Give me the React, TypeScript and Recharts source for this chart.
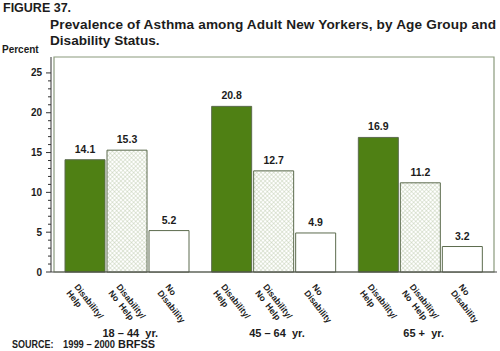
import React from 'react';
import { BarChart, Bar, XAxis, YAxis, LabelList, ReferenceArea } from 'recharts';

const ageGroups = ['18 – 44  yr.', '45 – 64  yr.', '65 +  yr.'];
const helpValues = [14.1, 20.8, 16.9];
const noHelpValues = [15.3, 12.7, 11.2];
const noDisabilityValues = [5.2, 4.9, 3.2];
const yTicks = [0, 1, 2, 3, 4, 5, 6, 7, 8, 9, 10, 11, 12, 13, 14, 15, 16, 17, 18, 19, 20, 21, 22, 23, 24, 25];
const helpLabel = ['Disability/', 'Help'];
const noHelpLabel = ['Disability/', 'No  Help'];
const noDisabilityLabel = ['No', 'Disability'];

const data = ageGroups.map((group, i) => ({
  group,
  help: helpValues[i],
  noHelp: noHelpValues[i],
  noDis: noDisabilityValues[i],
}));

const FONT = '"Liberation Sans", Arial, Helvetica, sans-serif';
const INK = '#1c1c1c';
const GREEN = '#4f8014';
const EDGE = '#5c6b4e';
const FRAME = '#8a9a7c';

function footLabel(lines: string[], dx: number) {
  return (props: any) => {
    const vb = props.viewBox ?? props;
    const x = Number(vb.x ?? props.x);
    const y = Number(vb.y ?? props.y);
    const w = Number(vb.width ?? props.width);
    const h = Number(vb.height ?? props.height);
    const cx = x + w / 2 + dx;
    const by = y + h + 15;
    return (
      <text
        transform={`translate(${cx},${by}) rotate(52)`}
        fontFamily={FONT}
        fontSize={8.7}
        fontWeight="bold"
        fill={INK}
        style={{ whiteSpace: 'pre' }}
      >
        {lines.map((l, i) => (
          <tspan key={i} x={0} dy={i === 0 ? 0 : 10}>
            {l}
          </tspan>
        ))}
      </text>
    );
  };
}

const YTick = (props: any) => {
  const { x, y, payload } = props;
  const major = payload.value % 5 === 0;
  return (
    <g>
      <line x1={x - (major ? 5 : 3)} x2={x} y1={y} y2={y} stroke="#333" strokeWidth={1} />
      {major && (
        <text x={x - 9} y={y} dy={3.5} textAnchor="end" fontFamily={FONT} fontSize={10} fontWeight="bold" fill={INK}>
          {payload.value}
        </text>
      )}
    </g>
  );
};

const GroupTick = (props: any) => {
  const { x, y, payload } = props;
  return (
    <text
      x={x + 3}
      y={y + 64.5}
      textAnchor="middle"
      fontFamily={FONT}
      fontSize={11}
      fontWeight="bold"
      fill={INK}
      style={{ whiteSpace: 'pre' }}
    >
      {payload.value}
    </text>
  );
};

const valueLabelStyle = { fontFamily: FONT, fontSize: 10.5, fontWeight: 'bold' as const, fill: INK };

export default function App() {
  return (
    <div style={{ position: 'absolute', left: 0, top: 0, width: 500, height: 351, background: '#fff' }}>
      <BarChart
        width={500}
        height={351}
        data={data}
        margin={{ top: 57, right: 3, left: 6, bottom: 19 }}
        barSize={40}
        barGap={2}
      >
        <defs>
          <pattern id="xhatch" width="3" height="3" patternUnits="userSpaceOnUse" patternTransform="rotate(45)">
            <rect width="3" height="3" fill="#fff" />
            <path d="M0 0 H3 M0 0 V3" stroke="#b6c6a6" strokeWidth={0.8} />
          </pattern>
        </defs>
        <ReferenceArea y1={0} y2={27} fill="none" stroke={FRAME} strokeWidth={1.2} ifOverflow="visible" />
        <XAxis
          dataKey="group"
          height={60}
          padding={{ left: 3, right: 3 }}
          tickLine={false}
          tickSize={0}
          tickMargin={0}
          axisLine={{ stroke: '#4a4a4a' }}
          tick={<GroupTick />}
        />
        <YAxis
          type="number"
          domain={[0, 27]}
          ticks={yTicks}
          interval={0}
          width={45}
          tickLine={false}
          tickSize={0}
          tickMargin={0}
          axisLine={{ stroke: '#333' }}
          tick={<YTick />}
        />
        <Bar dataKey="help" fill={GREEN} stroke={EDGE} strokeWidth={1} isAnimationActive={false}>
          <LabelList dataKey="help" position="top" offset={7} formatter={(v: any) => Number(v).toFixed(1)} style={valueLabelStyle} />
          <LabelList dataKey="help" content={footLabel(helpLabel, -11)} />
        </Bar>
        <Bar dataKey="noHelp" fill="url(#xhatch)" stroke={EDGE} strokeWidth={1} isAnimationActive={false}>
          <LabelList dataKey="noHelp" position="top" offset={7} formatter={(v: any) => Number(v).toFixed(1)} style={valueLabelStyle} />
          <LabelList dataKey="noHelp" content={footLabel(noHelpLabel, -11)} />
        </Bar>
        <Bar dataKey="noDis" fill="#fff" stroke={EDGE} strokeWidth={1} isAnimationActive={false}>
          <LabelList dataKey="noDis" position="top" offset={7} formatter={(v: any) => Number(v).toFixed(1)} style={valueLabelStyle} />
          <LabelList dataKey="noDis" content={footLabel(noDisabilityLabel, -4)} />
        </Bar>
      </BarChart>
      <svg
        width={500}
        height={351}
        style={{ position: 'absolute', left: 0, top: 0, pointerEvents: 'none' }}
        fontFamily={FONT}
        fontWeight="bold"
        fill={INK}
      >
        <text x={3} y={12} fontSize={12.5}>FIGURE 37.</text>
        <text x={50} y={28.5} fontSize={13.6} textLength={446} lengthAdjust="spacing">
          Prevalence of Asthma among Adult New Yorkers, by Age Group and
        </text>
        <text x={50} y={44.5} fontSize={13.6}>Disability Status.</text>
        <text x={2} y={53} fontSize={10}>Percent</text>
        <text x={12} y={348} fontSize={10} textLength={41.5} lengthAdjust="spacingAndGlyphs">SOURCE:</text>
        <text x={63} y={348} fontSize={10} textLength={52} lengthAdjust="spacingAndGlyphs">1999 – 2000</text>
        <text x={118} y={348} fontSize={10} textLength={37} lengthAdjust="spacingAndGlyphs">BRFSS</text>
      </svg>
    </div>
  );
}
